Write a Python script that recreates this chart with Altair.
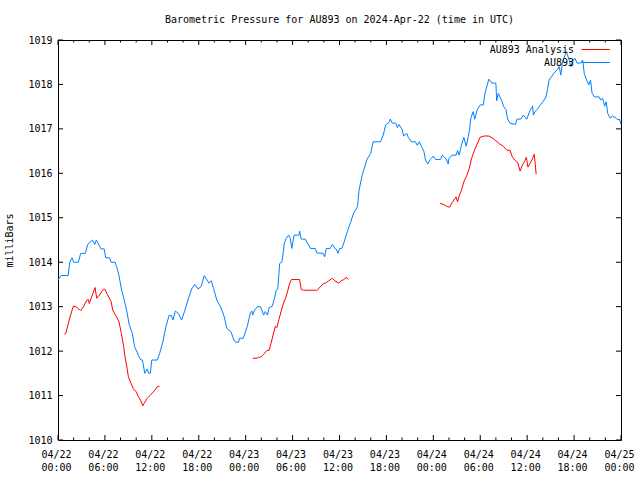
import altair as alt
import pandas as pd

# ---- data (hours since 2024-04-22 00:00 UTC, millibars) ----
blue_h = [0.0, 0.4, 1.3, 1.5, 1.8, 2.0, 2.6, 2.9, 3.5, 3.8, 4.4, 4.7, 4.9, 5.5, 5.9, 6.1, 6.6, 6.8, 7.3, 7.5,
          7.8, 8.1, 8.4, 8.8, 9.1, 9.5, 9.8, 10.3, 10.6, 10.8, 11.1, 11.4, 11.6, 11.8, 12.0, 12.7, 13.0, 13.4,
          13.8, 14.2, 14.5, 14.7, 15.0, 15.4, 15.8, 16.2, 16.7, 17.1, 17.5, 17.9, 18.3, 18.7, 19.3, 19.6, 19.9,
          20.3, 20.75, 21.2, 21.6, 22.1, 22.5, 22.7, 23.1, 23.2, 23.7, 24.2, 24.6, 24.8, 24.9, 25.1, 25.5, 25.9,
          26.3, 26.5, 26.8, 27.0, 27.4, 27.7, 27.9, 28.1, 28.35, 28.65, 28.95, 29.2, 29.5, 29.7, 29.9, 30.2,
          30.8, 30.9, 31.1, 31.6, 31.9, 32.3, 32.9, 33.1, 33.9, 34.1, 34.3, 34.8, 35.1, 35.4, 35.6, 35.8, 36.0,
          36.3, 36.6, 37.0, 37.4, 37.8, 38.3, 38.5, 38.9, 39.3, 39.5, 40.0, 40.3, 41.25, 41.6, 41.9, 42.3, 42.5,
          42.75, 43.2, 43.4, 43.6, 44.0, 44.2, 44.6, 44.8, 45.2, 45.7, 45.95, 46.2, 46.5, 46.8, 47.0, 47.3, 47.6,
          48.0, 48.3, 48.9, 49.15, 49.4, 49.7, 49.9, 50.0, 50.4, 50.9, 51.1, 51.3, 51.6, 51.9, 52.2, 52.6, 52.8,
          53.1, 53.3, 53.6, 54.0, 54.4, 54.6, 54.9, 55.1, 55.5, 56.0, 56.1, 56.3, 56.6, 56.8, 57.0, 57.3, 57.5,
          57.8, 58.5, 58.7, 59.2, 59.5, 59.95, 60.4, 60.7, 60.8, 61.0, 61.3, 61.7, 62.1, 62.4, 62.6, 62.8, 63.1,
          63.45, 63.9, 64.1, 64.3, 64.5, 64.7, 65.0, 65.3, 65.6, 65.8, 66.1, 66.4, 66.8, 67.1, 67.3, 67.6, 67.9,
          68.1, 68.3, 68.6, 69.2, 69.4, 69.65, 69.9, 70.1, 70.3, 70.6, 70.9, 71.4, 71.6, 71.8, 72.0]
blue_mb = [1013.6, 1013.7, 1013.7, 1014.0, 1014.1, 1014.0, 1014.0, 1014.2, 1014.2, 1014.4, 1014.5, 1014.4, 1014.5,
           1014.3, 1014.3, 1014.1, 1014.1, 1014.0, 1014.0, 1013.9, 1013.7, 1013.4, 1013.2, 1012.9, 1012.6, 1012.4,
           1012.1, 1011.9, 1011.8, 1011.8, 1011.5, 1011.6, 1011.5, 1011.5, 1011.8, 1011.8, 1011.95, 1012.2,
           1012.55, 1012.8, 1012.8, 1012.7, 1012.9, 1012.85, 1012.7, 1012.9, 1013.2, 1013.4, 1013.5, 1013.4,
           1013.45, 1013.7, 1013.53, 1013.58, 1013.41, 1013.15, 1013.01, 1012.81, 1012.51, 1012.44, 1012.25,
           1012.2, 1012.2, 1012.29, 1012.29, 1012.55, 1012.86, 1012.9, 1012.81, 1012.91, 1013.0, 1013.0, 1012.81,
           1012.89, 1012.81, 1012.98, 1013.01, 1013.19, 1013.37, 1013.39, 1013.97, 1014.01, 1014.43, 1014.54,
           1014.61, 1014.54, 1014.31, 1014.61, 1014.61, 1014.70, 1014.52, 1014.52, 1014.43, 1014.31, 1014.31,
           1014.21, 1014.2, 1014.12, 1014.31, 1014.31, 1014.40, 1014.31, 1014.29, 1014.2, 1014.31, 1014.31,
           1014.46, 1014.69, 1014.89, 1015.1, 1015.25, 1015.62, 1015.96, 1016.19, 1016.31, 1016.45, 1016.71,
           1016.71, 1016.86, 1017.09, 1017.14, 1017.22, 1017.13, 1017.13, 1017.03, 1017.10, 1016.99, 1016.84,
           1016.90, 1016.81, 1016.71, 1016.71, 1016.63, 1016.71, 1016.6, 1016.49, 1016.3, 1016.21, 1016.31,
           1016.39, 1016.31, 1016.31, 1016.41, 1016.37, 1016.3, 1016.21, 1016.34, 1016.41, 1016.41, 1016.51,
           1016.41, 1016.64, 1016.81, 1016.61, 1016.94, 1017.24, 1017.39, 1017.22, 1017.43, 1017.54, 1017.54,
           1017.8, 1017.99, 1018.12, 1018.03, 1018.03, 1017.63, 1017.8, 1017.69, 1017.61, 1017.5, 1017.43,
           1017.22, 1017.13, 1017.1, 1017.22, 1017.22, 1017.31, 1017.22, 1017.43, 1017.51, 1017.31, 1017.39,
           1017.44, 1017.54, 1017.63, 1017.72, 1017.88, 1018.1, 1018.17, 1018.26, 1018.34, 1018.4, 1018.21,
           1018.48, 1018.59, 1018.74, 1018.59, 1018.4, 1018.51, 1018.59, 1018.48, 1018.48, 1018.55, 1018.25,
           1018.1, 1017.99, 1018.1, 1017.8, 1017.72, 1017.72, 1017.65, 1017.69, 1017.51, 1017.61, 1017.35,
           1017.24, 1017.29, 1017.24, 1017.2, 1017.22, 1017.11]

red1_h = [0.8, 1.0, 1.54, 1.96, 2.3, 2.9, 3.25, 3.7, 3.9, 4.0, 4.3, 4.74, 4.95, 5.3, 5.8, 6.0, 6.3, 6.8, 7.0, 7.5,
          7.8, 8.1, 8.4, 8.6, 8.8, 9.0, 9.35, 9.65, 10.0, 10.3, 10.6, 10.85, 11.0, 11.4, 11.8, 12.3, 12.7, 12.98]
red1_mb = [1012.38, 1012.4, 1012.77, 1013.01, 1013.0, 1012.91, 1013.0, 1013.15, 1013.16, 1013.07, 1013.22,
           1013.43, 1013.19, 1013.26, 1013.39, 1013.39, 1013.28, 1013.11, 1012.92, 1012.77, 1012.66, 1012.4,
           1012.1, 1011.84, 1011.65, 1011.42, 1011.27, 1011.14, 1011.09, 1010.97, 1010.88, 1010.77, 1010.82,
           1010.94, 1011.01, 1011.1, 1011.2, 1011.21]
red2_h = [24.9, 25.45, 25.65, 25.97, 26.3, 26.7, 27.0, 27.25, 27.5, 27.8, 28.0, 28.1, 28.4, 28.8, 29.1, 29.4,
          29.6, 29.85, 30.9, 31.1, 31.4, 32.9, 33.1, 33.6, 33.9, 34.3, 34.6, 35.1, 35.4, 35.9, 36.2, 36.55,
          36.9, 37.1]
red2_mb = [1011.84, 1011.84, 1011.86, 1011.87, 1011.93, 1012.01, 1012.02, 1012.18, 1012.36, 1012.56, 1012.53,
           1012.61, 1012.81, 1013.06, 1013.19, 1013.37, 1013.51, 1013.61, 1013.61, 1013.39, 1013.37, 1013.37,
           1013.36, 1013.46, 1013.51, 1013.54, 1013.58, 1013.64, 1013.58, 1013.53, 1013.58, 1013.61, 1013.66,
           1013.61]
red3_h = [48.85, 49.4, 49.8, 50.1, 50.4, 50.9, 51.1, 51.3, 51.6, 51.9, 52.3, 52.6, 52.9, 53.2, 53.55, 53.97,
          54.5, 55.1, 55.6, 56.0, 56.5, 57.0, 57.4, 57.8, 58.1, 58.5, 58.8, 59.1, 59.4, 59.7, 59.9, 60.1, 60.5,
          60.7, 60.9, 61.0, 61.15]
red3_mb = [1015.33, 1015.29, 1015.25, 1015.24, 1015.34, 1015.47, 1015.36, 1015.49, 1015.62, 1015.81, 1015.96,
           1016.11, 1016.34, 1016.49, 1016.64, 1016.81, 1016.84, 1016.84, 1016.79, 1016.73, 1016.66, 1016.6,
           1016.52, 1016.52, 1016.37, 1016.28, 1016.24, 1016.05, 1016.19, 1016.28, 1016.36, 1016.14, 1016.26,
           1016.34, 1016.43, 1016.26, 1015.98]

y_ticks = [1010, 1011, 1012, 1013, 1014, 1015, 1016, 1017, 1018, 1019]
x_major = [0, 6, 12, 18, 24, 30, 36, 42, 48, 54, 60, 66, 72]
x_minor = [2, 4, 8, 10, 14, 16, 20, 22, 26, 28, 32, 34, 38, 40, 44, 46, 50, 52, 56, 58, 62, 64, 68, 70]
legend_names = ["AU893 Analysis", "AU893"]
legend_colors = ["#ff0000", "#0080ff"]

TITLE = "Barometric Pressure for AU893 on 2024-Apr-22 (time in UTC)"
FONT = "DejaVu Sans Mono"
W, H = 563, 400

blue_df = pd.DataFrame({"h": blue_h, "mb": blue_mb})
red_df = pd.concat([
    pd.DataFrame({"h": red1_h, "mb": red1_mb, "seg": 1}),
    pd.DataFrame({"h": red2_h, "mb": red2_mb, "seg": 2}),
    pd.DataFrame({"h": red3_h, "mb": red3_mb, "seg": 3}),
])

x_scale = alt.Scale(domain=[0, 72], nice=False, zero=False)
y_scale = alt.Scale(domain=[1010, 1019], nice=False, zero=False)

label_expr = ("datum.value % 6 == 0 ? "
              "[utcFormat(1713744000000 + datum.value*3600000, '%m/%d'), "
              "utcFormat(1713744000000 + datum.value*3600000, '%H:%M')] : ''")

x_axis = alt.Axis(values=x_major, labelExpr=label_expr, title=None, domain=False, ticks=False,
                  tickSize=0, grid=False, labelFont=FONT, labelFontSize=10, labelColor="black",
                  labelPadding=9.5, labelLineHeight=13, labelOffset=-2, labelAngle=0,
                  labelFlush=False, labelOverlap=False)
y_axis = alt.Axis(values=y_ticks, title="milliBars", domain=False, ticks=False, tickSize=0, grid=False,
                  labelFont=FONT, labelFontSize=10, labelColor="black", labelPadding=6, format="d",
                  titleFont=FONT, titleFontSize=10, titleFontWeight="normal", titleColor="black",
                  titlePadding=13)

X = alt.X("h:Q", scale=x_scale, axis=x_axis)
Y = alt.Y("mb:Q", scale=y_scale, axis=y_axis)

blue = alt.Chart(blue_df).mark_line(color="#0080ff", strokeWidth=1).encode(x=X, y=Y)
red = alt.Chart(red_df).mark_line(color="#ff0000", strokeWidth=1).encode(x=X, y=Y, detail="seg:N")

ytick_df = pd.DataFrame({"mb": y_ticks})
xmaj_df = pd.DataFrame({"h": x_major})
xmin_df = pd.DataFrame({"h": x_minor})


def yrule(x0, x1):
    return alt.Chart(ytick_df).mark_rule(color="black", strokeWidth=1).encode(
        y=Y, x=alt.value(x0), x2=alt.value(x1))


def xrule(df, y0, y1):
    return alt.Chart(df).mark_rule(color="black", strokeWidth=1).encode(
        x=X, y=alt.value(y0), y2=alt.value(y1))


ticks = [
    yrule(0, 5), yrule(W - 5, W),
    xrule(xmaj_df, H, H - 5), xrule(xmaj_df, 0, 5),
    xrule(xmin_df, H, H - 2.5), xrule(xmin_df, 0, 2.5),
]

legend_layers = []
for i, (name, col) in enumerate(zip(legend_names, legend_colors)):
    ldf = pd.DataFrame({"name": [name]})
    yy = 9.5 + 13 * i
    legend_layers.append(alt.Chart(ldf).mark_text(align="right", baseline="middle", font=FONT,
                                                  fontSize=10, color="black").encode(
        text="name:N", x=alt.value(516), y=alt.value(yy + 0.5)))
    legend_layers.append(alt.Chart(ldf).mark_rule(color=col, strokeWidth=1).encode(
        x=alt.value(523.5), x2=alt.value(552), y=alt.value(yy)))

chart = alt.layer(blue, red, *ticks, *legend_layers).properties(
    width=W, height=H,
    title=alt.TitleParams(TITLE, font=FONT, fontSize=10, fontWeight="normal", color="black",
                          anchor="middle", offset=10),
    autosize=alt.AutoSizeParams(type="none"),
    padding={"left": 58, "top": 40, "right": 19, "bottom": 40},
    background="white",
).configure_view(stroke="black", strokeWidth=1)

chart.save("out.html", embed_options={"renderer": "svg", "actions": False})
